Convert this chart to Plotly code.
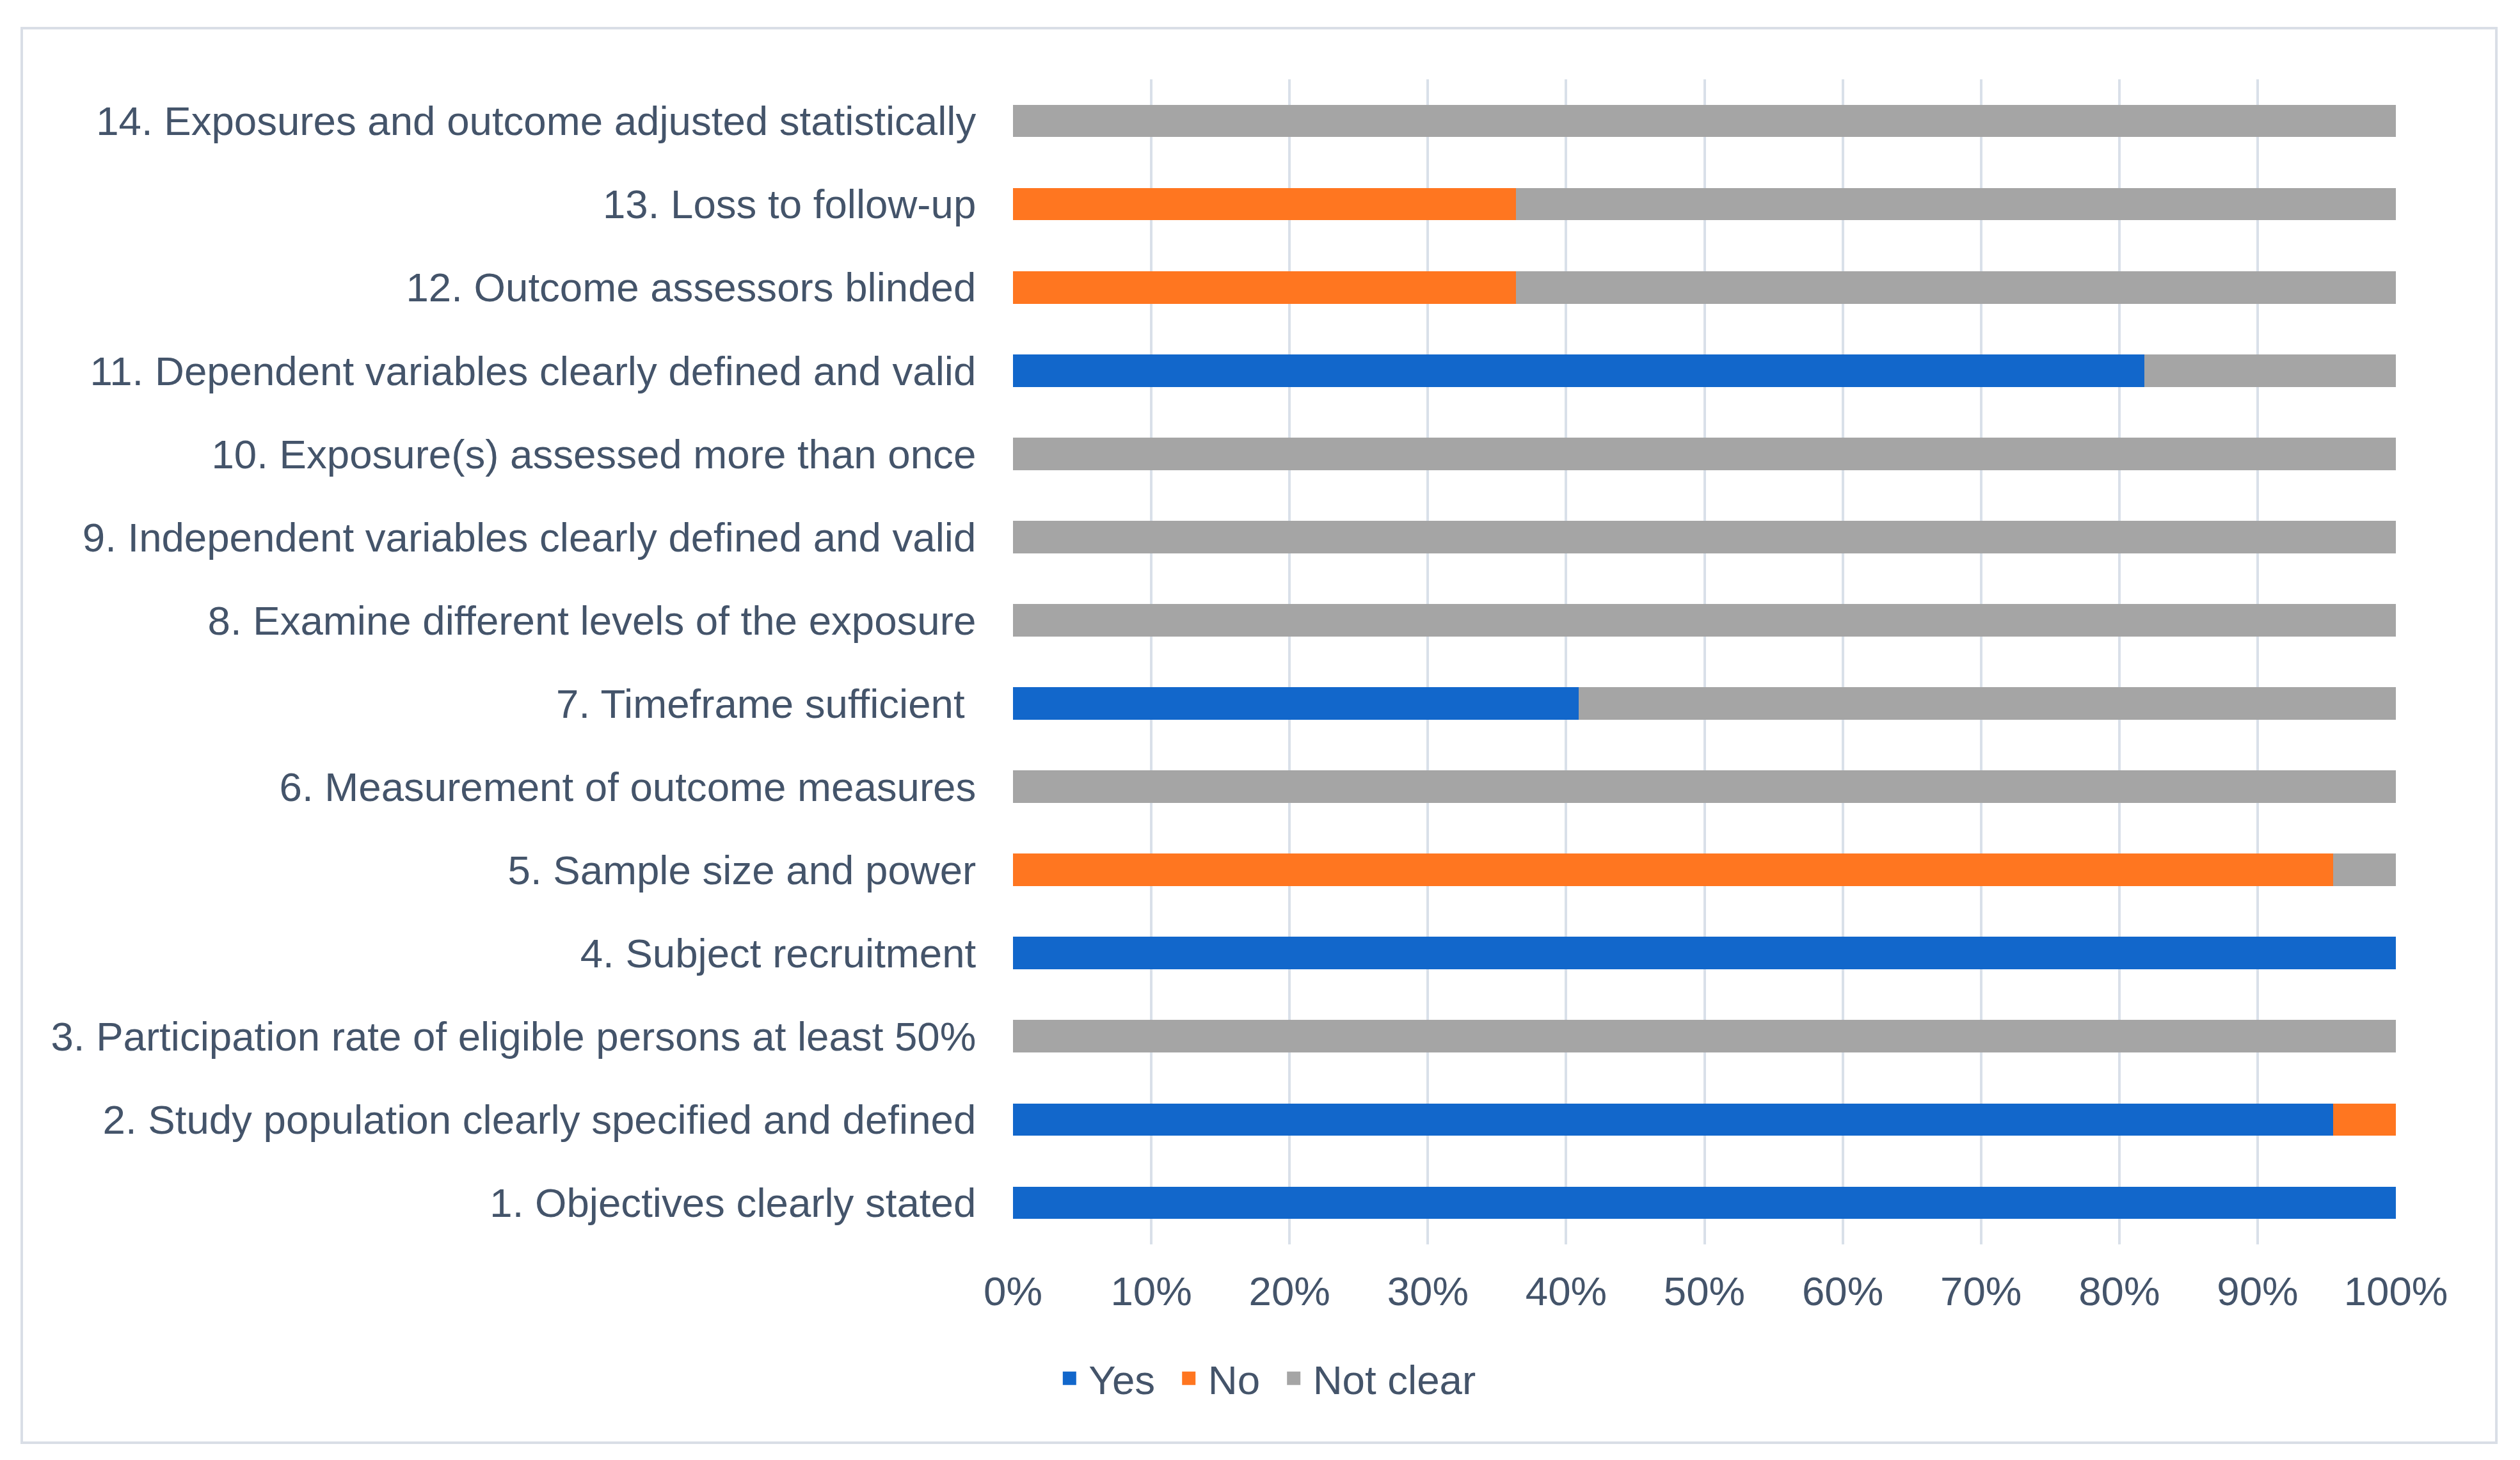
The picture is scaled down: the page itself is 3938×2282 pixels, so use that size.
import plotly.graph_objects as go

# quality assessment items, bottom (1) to top (14)
items = [
    "1. Objectives clearly stated",
    "2. Study population clearly specified and defined",
    "3. Participation rate of eligible persons at least 50%",
    "4. Subject recruitment",
    "5. Sample size and power",
    "6. Measurement of outcome measures",
    "7. Timeframe sufficient\u00a0",
    "8. Examine different levels of the exposure",
    "9. Independent variables clearly defined and valid",
    "10. Exposure(s) assessed more than once",
    "11. Dependent variables clearly defined and valid",
    "12. Outcome assessors blinded",
    "13. Loss to follow-up",
    "14. Exposures and outcome adjusted statistically",
]

# share of studies (%) per answer
yes = [100, 95.45, 0, 100, 0, 0, 40.91, 0, 0, 0, 81.82, 0, 0, 0]
no = [0, 4.55, 0, 0, 95.45, 0, 0, 0, 0, 0, 0, 36.36, 36.36, 0]
not_clear = [0, 0, 100, 0, 4.55, 100, 59.09, 100, 100, 100, 18.18, 63.64, 63.64, 100]

series = [("Yes", yes, "#1267CB"), ("No", no, "#FF7620"), ("Not clear", not_clear, "#A5A5A5")]
legend_names = {"Yes": "Yes\u00a0", "No": "No\u00a0", "Not clear": "Not clear"}

text_col = "#44546A"
font = "Arial, Liberation Sans, sans-serif"
fs = 63.6

fig = go.Figure()
for name, vals, col in series:
    fig.add_trace(go.Bar(y=items, x=vals, orientation="h", name=name,
                         marker=dict(color=col, line=dict(width=0)),
                         showlegend=False))
    # legend proxy so the swatch can be a bit larger
    fig.add_trace(go.Scatter(x=[None], y=[None], mode="markers", name=legend_names[name],
                             marker=dict(symbol="square", size=16, color=col,
                                         line=dict(color=col, width=5))))

fig.update_layout(
    width=3938, height=2282,
    margin=dict(l=1575, r=202, t=116, b=345),
    barmode="stack", bargap=0.61,
    paper_bgcolor="white", plot_bgcolor="white",
    font=dict(family=font, size=fs, color=text_col),
    legend=dict(orientation="h", x=0.182, xanchor="center", y=-0.115, yanchor="middle",
                font=dict(size=fs, color=text_col), itemwidth=50, traceorder="normal"),
    shapes=[dict(type="rect", xref="paper", yref="paper",
                 x0=-0.7168, x1=1.0727, y0=-0.1702, y1=1.0439,
                 line=dict(color="#D9DEE6", width=4), fillcolor="rgba(0,0,0,0)",
                 layer="below")],
)
fig.update_xaxes(range=[0, 100], dtick=10, ticksuffix="%", showgrid=True,
                 gridcolor="#D9E0E9", gridwidth=4, zeroline=False, showline=False,
                 ticks="outside", ticklen=18, tickcolor="rgba(0,0,0,0)",
                 tickfont=dict(size=fs, color=text_col))
fig.update_yaxes(type="category", showgrid=False, zeroline=False, showline=False,
                 ticks="outside", ticklen=44, tickcolor="rgba(0,0,0,0)",
                 tickfont=dict(size=fs, color=text_col))

fig.write_html("out.html")
